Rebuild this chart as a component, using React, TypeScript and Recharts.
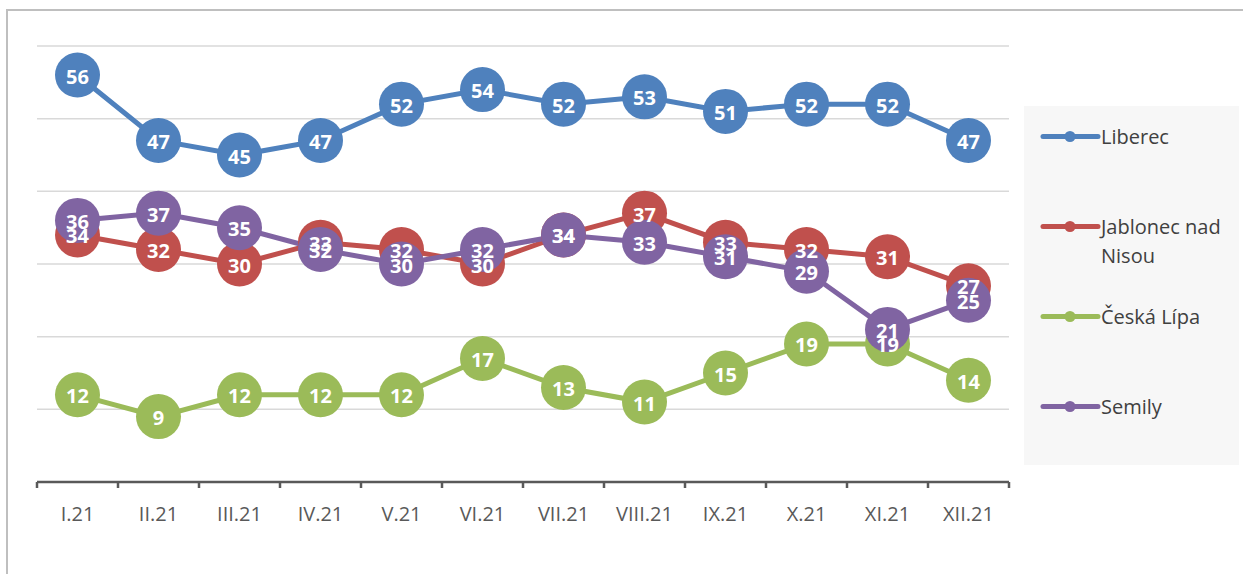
import React from "react"
import { LineChart, Line, XAxis, YAxis, CartesianGrid, LabelList } from "recharts"

const months = ["I.21", "II.21", "III.21", "IV.21", "V.21", "VI.21", "VII.21", "VIII.21", "IX.21", "X.21", "XI.21", "XII.21"]
const liberec = [56, 47, 45, 47, 52, 54, 52, 53, 51, 52, 52, 47]
const jablonec = [34, 32, 30, 33, 32, 30, 34, 37, 33, 32, 31, 27]
const ceskaLipa = [12, 9, 12, 12, 12, 17, 13, 11, 15, 19, 19, 14]
const semily = [36, 37, 35, 32, 30, 32, 34, 33, 31, 29, 21, 25]
const yTicks = [0, 10, 20, 30, 40, 50, 60]

const series = [
  { key: "liberec", name: "Liberec", values: liberec, color: "#4F81BD" },
  { key: "jablonec", name: "Jablonec nad Nisou", values: jablonec, color: "#C0504D" },
  { key: "ceska", name: "Česká Lípa", values: ceskaLipa, color: "#9BBB59" },
  { key: "semily", name: "Semily", values: semily, color: "#8064A2" },
]

const data = months.map((m, i) => {
  const row: Record<string, string | number> = { month: m }
  series.forEach((s) => {
    row[s.key] = s.values[i]
  })
  return row
})

const FONT = "'Open Sans', sans-serif"
const HALF_STEP = 40.5

const MonthTick = (props: any) => {
  const { x, y, payload, index } = props
  const last = index === months.length - 1
  return (
    <g>
      <line x1={x - HALF_STEP} x2={x - HALF_STEP} y1={y} y2={y + 6} stroke="#595959" strokeWidth={2.5} />
      {last && <line x1={x + HALF_STEP} x2={x + HALF_STEP} y1={y} y2={y + 6} stroke="#595959" strokeWidth={2.5} />}
      <text x={x} y={y + 31} textAnchor="middle" dominantBaseline="central" fill="#595959" fontSize={20} fontFamily={FONT}>
        {payload.value}
      </text>
    </g>
  )
}

const PointLabel = (props: any) => {
  const { x, y, value } = props
  return (
    <text x={x} y={y + 1} textAnchor="middle" dominantBaseline="central" fill="#ffffff" fontSize={20} fontWeight="bold" fontFamily={FONT}>
      {value}
    </text>
  )
}

const App = () => {
  return (
    <div style={{ position: "absolute", left: 0, top: 0, width: 1243, height: 574, fontFamily: FONT }}>
      <div
        style={{
          position: "absolute",
          left: 6,
          top: 9,
          width: 1237,
          height: 565,
          borderLeft: "2px solid #bfbfbf",
          borderTop: "2px solid #bfbfbf",
          boxSizing: "border-box",
        }}
      />
      <div style={{ position: "absolute", left: 0, top: 0 }}>
        <LineChart width={1243} height={574} data={data} margin={{ top: 46, right: 234, left: 37, bottom: 62 }}>
          <CartesianGrid vertical={false} stroke="#d9d9d9" strokeWidth={1.5} />
          <YAxis hide domain={[0, 60]} ticks={yTicks} />
          <XAxis
            dataKey="month"
            padding={{ left: HALF_STEP, right: HALF_STEP }}
            axisLine={{ stroke: "#595959", strokeWidth: 2.5 }}
            tickLine={false}
            tickSize={0}
            tickMargin={0}
            interval={0}
            tick={<MonthTick />}
            height={30}
          />
          {series.map((s) => (
            <Line
              key={s.key}
              dataKey={s.key}
              name={s.name}
              stroke={s.color}
              strokeWidth={5}
              dot={{ r: 22.5, fill: s.color, stroke: s.color, strokeWidth: 0 }}
              activeDot={false}
              isAnimationActive={false}
            />
          ))}
          {series.map((s) => (
            <Line
              key={s.key + "-labels"}
              dataKey={s.key}
              stroke="none"
              dot={false}
              activeDot={false}
              legendType="none"
              isAnimationActive={false}
            >
              <LabelList dataKey={s.key} content={<PointLabel />} />
            </Line>
          ))}
        </LineChart>
      </div>
      <div
        style={{
          position: "absolute",
          left: 1024,
          top: 106,
          width: 215,
          height: 359,
          background: "#f7f7f7",
          paddingTop: 16,
          boxSizing: "border-box",
        }}
      >
        {series.map((s) => (
          <div key={s.key} style={{ display: "flex", alignItems: "flex-start", height: 90 }}>
            <svg width={77} height={29} style={{ flex: "none" }}>
              <line x1={19} x2={74} y1={14.5} y2={14.5} stroke={s.color} strokeWidth={5} strokeLinecap="round" />
              <circle cx={46} cy={14.5} r={5.5} fill={s.color} />
            </svg>
            <div style={{ width: 132, fontSize: 20, lineHeight: "29px", color: "#404040" }}>{s.name}</div>
          </div>
        ))}
      </div>
    </div>
  )
}

export default App
